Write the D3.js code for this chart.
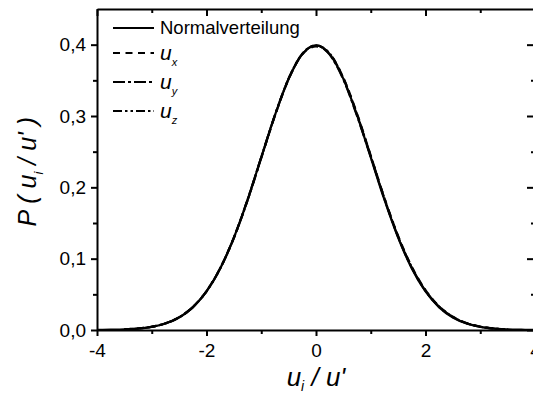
<!DOCTYPE html>
<html><head><meta charset="utf-8">
<script src="https://cdn.jsdelivr.net/npm/d3@7"></script>
<style>
body{margin:0;background:#fff;}
text{font-family:"Liberation Sans",Arial,sans-serif;fill:#000;}
</style></head><body>
<svg id="c" width="533" height="396"></svg>
<script>
// x positions (u_i / u')
const xs = [-4,-3.75,-3.5,-3.25,-3,-2.75,-2.5,-2.25,-2,-1.75,-1.5,-1.25,-1,-0.75,-0.5,-0.25,0,0.25,0.5,0.75,1,1.25,1.5,1.75,2,2.25,2.5,2.75,3,3.25,3.5,3.75,4];
const normal = [0.0001,0.0004,0.0009,0.0020,0.0044,0.0091,0.0175,0.0317,0.0540,0.0863,0.1295,0.1826,0.2420,0.3011,0.3521,0.3867,0.3989,0.3867,0.3521,0.3011,0.2420,0.1826,0.1295,0.0863,0.0540,0.0317,0.0175,0.0091,0.0044,0.0020,0.0009,0.0004,0.0001];
const uxX = [-3.5,-3.25,-3,-2.75,-2.5,-2.25,-2,-1.75,-1.5,-1.25,-1,-0.75,-0.5,-0.25,0,0.25,0.5,0.75,1,1.25,1.5,1.75,2,2.25,2.5,2.75,3,3.25,3.5];
const ux  = [0.0010,0.0022,0.0046,0.0094,0.0180,0.0322,0.0545,0.0866,0.1293,0.1820,0.2412,0.3004,0.3516,0.3865,0.3975,0.3872,0.3535,0.3030,0.2445,0.1850,0.1318,0.0885,0.0560,0.0332,0.0186,0.0097,0.0047,0.0021,0.0009];
const uy  = [0.0009,0.0021,0.0045,0.0092,0.0178,0.0320,0.0542,0.0862,0.1290,0.1818,0.2415,0.3008,0.3522,0.3870,0.3985,0.3860,0.3510,0.3000,0.2430,0.1840,0.1305,0.0872,0.0548,0.0324,0.0181,0.0094,0.0046,0.0021,0.0009];
const uz  = [0.0010,0.0021,0.0045,0.0093,0.0177,0.0319,0.0543,0.0864,0.1296,0.1828,0.2422,0.3014,0.3525,0.3872,0.3992,0.3875,0.3530,0.3022,0.2438,0.1842,0.1310,0.0878,0.0554,0.0328,0.0183,0.0095,0.0046,0.0021,0.0009];
const xTicks = [-4,-2,0,2,4];
const xMinor = [-3,-1,1,3];
const yTicks = [0,0.1,0.2,0.3,0.4];
const yMinor = [0.05,0.15,0.25,0.35];
const legendLabels = ["Normalverteilung","u","u","u"];
const legendSubs = ["","x","y","z"];

const svg = d3.select("#c");
const x = d3.scaleLinear().domain([-4,4]).range([97,535]);
const y = d3.scaleLinear().domain([0,0.45]).range([330,9]);
const loc = d3.formatLocale({decimal:",",thousands:".",grouping:[3],currency:["","€"],minus:"-"});
const fy = loc.format(".1f");
const fx = loc.format("d");

function styleAxis(g){
  g.select(".domain").attr("stroke","#000").attr("stroke-width",2);
  g.selectAll(".tick line").attr("stroke","#000").attr("stroke-width",2);
  g.selectAll(".tick text").style("font-size","19px").attr("fill","#000");
}
function minor(g){g.select(".domain").remove();g.selectAll("line").attr("stroke","#000").attr("stroke-width",2);}
// bottom
const gb = svg.append("g").attr("transform",`translate(0,${y(0)})`)
  .call(d3.axisBottom(x).tickValues(xTicks).tickFormat(fx).tickSize(6).tickSizeOuter(0).tickPadding(8));
styleAxis(gb);
svg.append("g").attr("transform",`translate(0,${y(0)})`)
  .call(d3.axisBottom(x).tickValues(xMinor).tickFormat("").tickSize(4).tickSizeOuter(0)).call(minor);
// top
const gt = svg.append("g").attr("transform",`translate(0,${y(0.45)})`)
  .call(d3.axisTop(x).tickValues(xTicks).tickFormat("").tickSize(-7).tickSizeOuter(0));
styleAxis(gt);
svg.append("g").attr("transform",`translate(0,${y(0.45)})`)
  .call(d3.axisTop(x).tickValues(xMinor).tickFormat("").tickSize(-4).tickSizeOuter(0)).call(minor);
// left
const gl = svg.append("g").attr("transform",`translate(${x(-4)},0)`)
  .call(d3.axisLeft(y).tickValues(yTicks).tickFormat(fy).tickSize(6).tickSizeOuter(0).tickPadding(5));
styleAxis(gl);
svg.append("g").attr("transform",`translate(${x(-4)},0)`)
  .call(d3.axisLeft(y).tickValues(yMinor).tickFormat("").tickSize(4).tickSizeOuter(0)).call(minor);
// right
const gr = svg.append("g").attr("transform",`translate(${x(4)},0)`)
  .call(d3.axisRight(y).tickValues(yTicks).tickFormat("").tickSize(-8).tickSizeOuter(0));
styleAxis(gr);
svg.append("g").attr("transform",`translate(${x(4)},0)`)
  .call(d3.axisRight(y).tickValues(yMinor).tickFormat("").tickSize(-4).tickSizeOuter(0)).call(minor);

// curves
const line = d3.line().x(d=>x(d[0])).y(d=>y(d[1])).curve(d3.curveMonotoneX);
const series = [
  {xv:xs, yv:normal, dash:null},
  {xv:uxX, yv:ux, dash:"7,5.5"},
  {xv:uxX, yv:uy, dash:"12,3,3,3"},
  {xv:uxX, yv:uz, dash:"9,3,2.5,3,2.5,3"}
];
series.slice().reverse().forEach(s=>{
  svg.append("path").datum(s.xv.map((v,i)=>[v,s.yv[i]]))
    .attr("d",line).attr("fill","none").attr("stroke","#000")
    .attr("stroke-width",2.2).attr("stroke-dasharray",s.dash);
});

// legend
const legY = [28,53,82,111];
series.forEach((s,i)=>{
  svg.append("line").attr("x1",113).attr("x2",154).attr("y1",legY[i]).attr("y2",legY[i])
    .attr("stroke","#000").attr("stroke-width",2).attr("stroke-dasharray",s.dash);
  const t = svg.append("text").attr("x",160).attr("y",legY[i]+7);
  if(i===0){ t.style("font-size","18.5px").text(legendLabels[i]); t.attr("y",legY[i]+6); }
  else {
    t.append("tspan").style("font-size","21px").style("font-style","italic").text(legendLabels[i]);
    t.append("tspan").attr("dy",6).style("font-size","11px").style("font-style","italic").text(legendSubs[i]);
  }
});

// axis titles
const xt = svg.append("text").attr("x",316).attr("y",386).attr("text-anchor","middle")
  .style("font-size","26px").style("font-style","italic");
xt.append("tspan").text("u");
xt.append("tspan").attr("dy",5).style("font-size","14px").text("i");
xt.append("tspan").attr("dy",-5).text(" / u'");

const yt = svg.append("text").attr("transform",`translate(36,${y(0.222)}) rotate(-90)`)
  .attr("text-anchor","middle").style("font-size","25px").style("font-style","italic");
yt.append("tspan").text("P ( u");
yt.append("tspan").attr("dy",7).style("font-size","13px").text("i");
yt.append("tspan").attr("dy",-7).text(" / u' )");
</script></body></html>
